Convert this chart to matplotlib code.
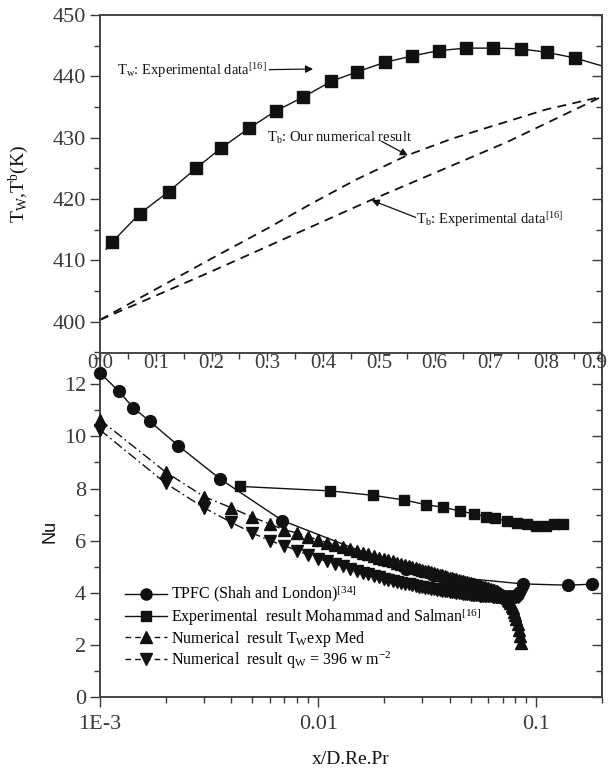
import matplotlib
matplotlib.use('Agg')
import matplotlib.pyplot as plt
import matplotlib.transforms as mtransforms
from matplotlib.ticker import MultipleLocator, FixedLocator, FixedFormatter, NullFormatter
from matplotlib.lines import Line2D

plt.rcParams['font.family'] = ['Liberation Serif', 'DejaVu Serif']
plt.rcParams['mathtext.fontset'] = 'custom'
plt.rcParams['mathtext.rm'] = 'Liberation Serif'
plt.rcParams['mathtext.it'] = 'Liberation Serif:italic'
plt.rcParams['mathtext.bf'] = 'Liberation Serif:bold'

# ---------------- top panel data ----------------
tw_x = [0.022, 0.071, 0.123, 0.172, 0.217, 0.268, 0.316, 0.364, 0.415, 0.460,
        0.511, 0.559, 0.607, 0.657, 0.705, 0.754, 0.802, 0.851]
tw_y = [413.0, 417.6, 421.2, 425.0, 428.3, 431.6, 434.4, 436.6, 439.2, 440.7,
        442.3, 443.3, 444.2, 444.6, 444.6, 444.5, 443.9, 443.0]
tw_line_x = [0.011] + tw_x + [0.9]
tw_line_y = [411.8] + tw_y + [441.7]

tb_num_x = [0.0, 0.1, 0.2, 0.3, 0.38, 0.46, 0.55, 0.63, 0.7, 0.8, 0.9]
tb_num_y = [400.3, 405.3, 410.3, 415.2, 419.3, 423.2, 427.1, 429.8, 431.8, 434.6, 436.7]

tb_exp_x = [0.0, 0.2, 0.48, 0.73, 0.9]
tb_exp_y = [400.3, 408.2, 419.6, 429.3, 436.7]

top_xticks = [0.0, 0.1, 0.2, 0.3, 0.4, 0.5, 0.6, 0.7, 0.8, 0.9]
top_xticklabels = ['0.0', '0.1', '0.2', '0.3', '0.4', '0.5', '0.6', '0.7', '0.8', '0.9']
top_yticks = [400, 410, 420, 430, 440, 450]

# ---------------- bottom panel data ----------------
tpfc_x = [0.0010, 0.00122, 0.00142, 0.00169, 0.00228, 0.00355, 0.00685,
          0.0252, 0.0336, 0.0866, 0.140, 0.180]
tpfc_y = [12.44, 11.73, 11.10, 10.58, 9.65, 8.37, 6.77, 4.93, 4.67, 4.34, 4.29, 4.33]

exp_x = [0.0044, 0.0113, 0.0178, 0.0248, 0.0311, 0.0375, 0.0449, 0.0518, 0.0586,
         0.0649, 0.0734, 0.0814, 0.0902, 0.100, 0.111, 0.120, 0.133]
exp_y = [8.08, 7.91, 7.74, 7.56, 7.38, 7.28, 7.13, 7.03, 6.92, 6.86, 6.74, 6.67,
         6.62, 6.58, 6.58, 6.62, 6.64]

num_tw_x = [0.001, 0.002, 0.003, 0.004, 0.005, 0.006, 0.007, 0.008, 0.009, 0.010,
            0.011, 0.012, 0.013, 0.014, 0.015, 0.016, 0.017, 0.018, 0.019, 0.020,
            0.021, 0.022, 0.023, 0.024, 0.025, 0.026, 0.027, 0.028, 0.029, 0.030,
            0.031, 0.032, 0.033, 0.034, 0.035, 0.036, 0.037, 0.038, 0.039, 0.040,
            0.041, 0.042, 0.043, 0.044, 0.045, 0.046, 0.047, 0.048, 0.049, 0.050,
            0.051, 0.052, 0.053, 0.054, 0.055, 0.056, 0.057, 0.058, 0.059, 0.060,
            0.061, 0.062, 0.063, 0.064, 0.065, 0.066, 0.067, 0.068, 0.069, 0.070,
            0.071, 0.072, 0.073, 0.074, 0.075, 0.076, 0.077, 0.078, 0.079, 0.080,
            0.081, 0.082, 0.083, 0.084, 0.085]
num_tw_y = [10.64, 8.63, 7.69, 7.26, 6.90, 6.64, 6.41, 6.30, 6.15, 6.03,
            5.92, 5.83, 5.75, 5.68, 5.60, 5.53, 5.47, 5.41, 5.35, 5.29,
            5.25, 5.20, 5.15, 5.11, 5.07, 5.03, 4.99, 4.95, 4.92, 4.88,
            4.85, 4.82, 4.79, 4.76, 4.73, 4.70, 4.67, 4.64, 4.61, 4.58,
            4.56, 4.53, 4.51, 4.49, 4.47, 4.45, 4.43, 4.41, 4.39, 4.37,
            4.35, 4.33, 4.31, 4.29, 4.27, 4.25, 4.23, 4.21, 4.19, 4.17,
            4.15, 4.13, 4.11, 4.09, 4.07, 4.05, 4.02, 3.99, 3.96, 3.93,
            3.89, 3.85, 3.80, 3.74, 3.67, 3.59, 3.50, 3.40, 3.28, 3.14,
            2.98, 2.80, 2.59, 2.35, 2.08]

num_qw_x = [0.001, 0.002, 0.003, 0.004, 0.005, 0.006, 0.007, 0.008, 0.009, 0.010,
            0.011, 0.012, 0.013, 0.014, 0.015, 0.016, 0.017, 0.018, 0.019, 0.020,
            0.021, 0.022, 0.023, 0.024, 0.025, 0.026, 0.027, 0.028, 0.029, 0.030,
            0.031, 0.032, 0.033, 0.034, 0.035, 0.036, 0.037, 0.038, 0.039, 0.040,
            0.041, 0.042, 0.043, 0.044, 0.045, 0.046, 0.047, 0.048, 0.049, 0.050,
            0.051, 0.052, 0.053, 0.054, 0.055, 0.056, 0.057, 0.058, 0.059, 0.060,
            0.061, 0.062, 0.063, 0.064, 0.065, 0.066, 0.067, 0.068, 0.069, 0.070,
            0.071, 0.072, 0.073, 0.074, 0.075, 0.076, 0.077, 0.078, 0.079, 0.080,
            0.081, 0.082, 0.083, 0.084, 0.085, 0.086]
num_qw_y = [10.25, 8.20, 7.26, 6.70, 6.29, 6.00, 5.81, 5.62, 5.45, 5.31,
            5.20, 5.10, 5.01, 4.92, 4.84, 4.77, 4.71, 4.65, 4.59, 4.54,
            4.50, 4.46, 4.42, 4.38, 4.35, 4.32, 4.29, 4.26, 4.24, 4.21,
            4.19, 4.17, 4.15, 4.13, 4.11, 4.09, 4.08, 4.06, 4.05, 4.03,
            4.02, 4.01, 4.00, 3.99, 3.98, 3.97, 3.96, 3.95, 3.94, 3.93,
            3.92, 3.91, 3.91, 3.90, 3.89, 3.89, 3.88, 3.88, 3.87, 3.87,
            3.86, 3.86, 3.85, 3.85, 3.85, 3.84, 3.84, 3.84, 3.83, 3.83,
            3.83, 3.83, 3.82, 3.82, 3.82, 3.82, 3.82, 3.82, 3.83, 3.83,
            3.84, 3.85, 3.87, 3.90, 3.94, 3.99]

bot_xticks = [0.001, 0.01, 0.1]
bot_xticklabels = ['1E-3', '0.01', '0.1']
bot_yticks = [0, 2, 4, 6, 8, 10, 12]

legend_labels = [r'TPFC (Shah and London)$^{[34]}$',
                 r'Experimental  result Mohammad and Salman$^{[16]}$',
                 r'Numerical  result T$_{\rm W}$exp Med',
                 r'Numerical  result q$_{\rm W}$ = 396 w m$^{-2}$']

# ---------------- figure ----------------
W, H = 612, 770
fig = plt.figure(figsize=(W / 100, H / 100), dpi=100)
L, R = 100, 602
ax2 = fig.add_axes([L / W, (H - 697) / H, (R - L) / W, (697 - 353) / H])
ax1 = fig.add_axes([L / W, (H - 353) / H, (R - L) / W, (353 - 15) / H])
ax1.set_zorder(3)
ax1.patch.set_alpha(0)

ink = '#111111'
tick_col = '#3a3a3a'
spine_col = '#444444'

# ----- top panel -----
ax1.plot(tw_line_x, tw_line_y, '-', color=ink, lw=1.0)
ax1.plot(tw_x, tw_y, 's', color=ink, ms=8, mec=ink)
ax1.plot(tb_num_x, tb_num_y, color=ink, lw=1.3, ls=(0, (5, 3.5)))
ax1.plot(tb_exp_x, tb_exp_y, color=ink, lw=1.3, ls=(0, (5, 3.5)))

ax1.set_xlim(0, 0.9)
ax1.set_ylim(394.9, 450)
ax1.xaxis.set_major_locator(FixedLocator(top_xticks))
ax1.xaxis.set_major_formatter(FixedFormatter(top_xticklabels))
ax1.xaxis.set_minor_locator(MultipleLocator(0.05))
ax1.yaxis.set_major_locator(FixedLocator(top_yticks))
ax1.yaxis.set_minor_locator(MultipleLocator(5))
ax1.tick_params(axis='x', which='both', direction='out', bottom=True, top=False,
                labelsize=15, pad=-5, colors=tick_col)
ax1.tick_params(axis='x', which='major', length=6, width=1)
ax1.tick_params(axis='x', which='minor', length=4, width=1)
ax1.tick_params(axis='y', which='both', direction='out', left=True, right=False,
                labelsize=16, pad=3, colors=tick_col)
ax1.tick_params(axis='y', which='major', length=7, width=1)
ax1.tick_params(axis='y', which='minor', length=4, width=1)
sec1 = ax1.secondary_yaxis('right')
sec1.yaxis.set_major_locator(FixedLocator(top_yticks))
sec1.yaxis.set_minor_locator(MultipleLocator(5))
sec1.tick_params(axis='y', which='both', direction='in', labelright=False, colors=tick_col)
sec1.tick_params(axis='y', which='major', length=7, width=1)
sec1.tick_params(axis='y', which='minor', length=4, width=1)
for sp in list(ax1.spines.values()) + [sec1.spines['right']]:
    sp.set_color(spine_col)
    sp.set_linewidth(1.4)
ax1.set_ylabel(r'T$_{\rm W}$,T$^{\rm b}$(K)', fontsize=14, color=ink)
ax1.yaxis.set_label_coords(-0.137, 0.5)

# keep the last top tick label ("0.9") inside the picture
fig.canvas.draw()
last_lbl = ax1.get_xticklabels()[-1]
last_lbl.set_transform(last_lbl.get_transform() +
                       mtransforms.ScaledTranslation(-8 / 100, 0, fig.dpi_scale_trans))

arrow_kw = dict(arrowstyle='-|>', color=ink, lw=0.9, mutation_scale=11, shrinkA=0, shrinkB=0)
ax1.annotate(r'T$_{\rm w}$: Experimental data$^{[16]}$', xy=(0.382, 441.2), xytext=(0.03, 440.9),
             fontsize=10.5, color=ink, va='center', ha='left', arrowprops=arrow_kw)
ax1.annotate(r'T$_{\rm b}$: Our numerical result', xy=(0.552, 427.1), xytext=(0.30, 430.0),
             fontsize=10.5, color=ink, va='center', ha='left')
ax1.annotate('', xy=(0.552, 427.1), xytext=(0.505, 429.4), arrowprops=arrow_kw)
ax1.annotate(r'T$_{\rm b}$: Experimental data$^{[16]}$', xy=(0.487, 419.8), xytext=(0.566, 416.7),
             fontsize=10.5, color=ink, va='center', ha='left')
ax1.annotate('', xy=(0.487, 419.8), xytext=(0.566, 417.0), arrowprops=arrow_kw)

# ----- bottom panel -----
dd = (0, (7, 2.5, 1.2, 2.5))
ax2.plot(tpfc_x, tpfc_y, '-o', color=ink, lw=1.0, ms=8.5, clip_on=False, zorder=4)
ax2.plot(exp_x, exp_y, '-s', color=ink, lw=1.0, ms=7.5, clip_on=False, zorder=4)
ax2.plot(num_tw_x, num_tw_y, marker='^', ls=dd, color=ink, lw=1.0, ms=8.5, clip_on=False, zorder=3)
ax2.plot(num_qw_x, num_qw_y, marker='v', ls=dd, color=ink, lw=1.0, ms=8.5, clip_on=False, zorder=3)

ax2.set_xscale('log')
ax2.set_xlim(0.001, 0.2)
ax2.set_ylim(0, 13.2)
ax2.xaxis.set_major_locator(FixedLocator(bot_xticks))
ax2.xaxis.set_major_formatter(FixedFormatter(bot_xticklabels))
ax2.xaxis.set_minor_locator(FixedLocator([m * d for d in (0.001, 0.01, 0.1) for m in range(2, 10)]))
ax2.xaxis.set_minor_formatter(NullFormatter())
ax2.yaxis.set_major_locator(FixedLocator(bot_yticks))
ax2.yaxis.set_minor_locator(MultipleLocator(1))
ax2.tick_params(axis='x', which='both', direction='out', top=False, labelsize=16, pad=6, colors=tick_col)
ax2.tick_params(axis='x', which='major', length=7, width=1)
ax2.tick_params(axis='x', which='minor', length=4, width=1)
ax2.tick_params(axis='y', which='both', direction='out', right=False, labelsize=16, pad=3, colors=tick_col)
ax2.tick_params(axis='y', which='major', length=7, width=1)
ax2.tick_params(axis='y', which='minor', length=4, width=1)
sec2 = ax2.secondary_yaxis('right')
sec2.yaxis.set_major_locator(FixedLocator(bot_yticks))
sec2.yaxis.set_minor_locator(MultipleLocator(1))
sec2.tick_params(axis='y', which='both', direction='in', labelright=False, colors=tick_col)
sec2.tick_params(axis='y', which='major', length=7, width=1)
sec2.tick_params(axis='y', which='minor', length=4, width=1)
for sp in list(ax2.spines.values()) + [sec2.spines['right']]:
    sp.set_color(spine_col)
    sp.set_linewidth(1.4)
ax2.spines['top'].set_visible(False)
ax2.set_xlabel('x/D.Re.Pr', fontsize=14, color=ink, labelpad=12)
ax2.set_ylabel('Nu', fontsize=13, color=ink, family=['Liberation Sans', 'DejaVu Sans'])
ax2.yaxis.set_label_coords(-0.082, 0.48)

handles = [Line2D([], [], color=ink, lw=1.0, marker='o', ms=8),
           Line2D([], [], color=ink, lw=1.0, marker='s', ms=7.5),
           Line2D([], [], color=ink, lw=1.0, marker='^', ms=8, ls=(0, (4, 3))),
           Line2D([], [], color=ink, lw=1.0, marker='v', ms=8, ls=(0, (4, 3)))]
ax2.legend(handles, legend_labels, loc='upper left', bbox_to_anchor=(125 / W, (H - 584) / H),
           bbox_transform=fig.transFigure, frameon=False, fontsize=11.5, handlelength=2.6,
           handletextpad=0.3, labelspacing=0.05, borderpad=0, borderaxespad=0)

fig.savefig('out.png', dpi=100)
